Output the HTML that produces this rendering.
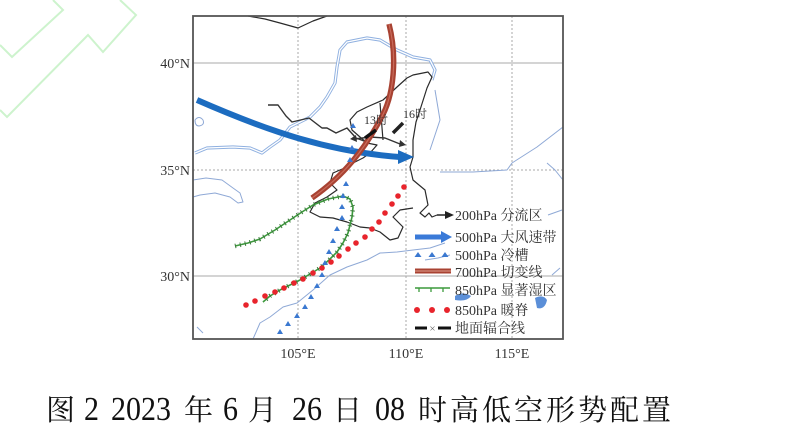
<!DOCTYPE html>
<html><head><meta charset="utf-8"><style>
html,body{margin:0;padding:0;background:#fff;}
svg{display:block;}
.s{font-family:"Liberation Serif","Noto Serif CJK SC",serif;}
</style></head><body>
<svg width="800" height="440" viewBox="0 0 800 440" xmlns="http://www.w3.org/2000/svg">
<rect width="800" height="440" fill="#fff"/>
<!-- decorative green outlines -->
<polyline points="53,0 63,10 12,57 0,45" fill="none" stroke="#cdf3cd" stroke-width="2"/>
<polyline points="120,0 136,15 103,52 88,35 7,117 0,110" fill="none" stroke="#cdf3cd" stroke-width="2"/>

<!-- grid -->
<g stroke="#a8a8a8" stroke-width="1" fill="none">
<line x1="193" y1="63" x2="563" y2="63"/>
<line x1="193" y1="276" x2="563" y2="276"/>
<line x1="193" y1="170" x2="563" y2="170" stroke-dasharray="2,2"/>
<line x1="298" y1="16" x2="298" y2="339" stroke-dasharray="2,2"/>
<line x1="406" y1="16" x2="406" y2="339" stroke-dasharray="2,2"/>
<line x1="512" y1="16" x2="512" y2="339" stroke-dasharray="2,2"/>
</g>

<!-- rivers -->
<g fill="none" stroke-linejoin="round">
<polyline points="195,153 207,148 233,147 250,148 262,153 270,147 280,140 290,127 310,117 320,107 327,97 335,83 337,67 340,50 347,42 367,38 380,40 397,50 413,57 430,60 435,70 432,80" stroke="#8fb0e0" stroke-width="3.2"/>
<polyline points="195,153 207,148 233,147 250,148 262,153 270,147 280,140 290,127 310,117 320,107 327,97 335,83 337,67 340,50 347,42 367,38 380,40 397,50 413,57 430,60 435,70 432,80" stroke="#fff" stroke-width="1.3"/>
<g stroke="#8fa9d6" stroke-width="1">
<polyline points="253,339 260,323 270,317 283,307 297,303 313,290 330,275 347,267 367,260 380,253 397,252 413,250 430,248 445,243"/>
<polyline points="425,260 438,258 450,255"/>
<polyline points="440,172 473,172 507,170 512,163 537,147 563,127"/>
<polyline points="547,163 555,170 563,180"/>
<polyline points="193,197 200,195 215,193 230,197 238,203 243,202 240,193 233,188 222,180 206,178 193,180"/>
<path d="M195,120 q4,-5 8,0 q2,5 -4,6 q-4,0 -4,-6z"/>
<polyline points="197,327 203,333"/>
<polyline points="548,215 562,210"/>
<polyline points="552,275 560,268"/>
<polyline points="435,90 440,120 430,150"/>
</g>
<path d="M455,296 q8,-5 16,0 q-4,6 -16,4z" fill="#5b8fd8"/>
<path d="M535,298 q8,-4 12,2 q-2,10 -10,8z" fill="#5b8fd8"/>
</g>

<!-- black boundaries -->
<g fill="none" stroke="#2a2a2a" stroke-width="1.2" stroke-linejoin="round">
<polyline points="248,16 265,19 280,23 298,28 313,21 327,16"/>
<polyline points="407,78 413,75 428,72 432,77 427,88 420,110 416,122 413,140 413,157 410,167 413,180 425,190 428,205 420,213 425,217 429,213 432,217 437,215"/>
<polyline points="407,78 397,87 383,100 367,107 357,112 350,120 352,130 360,137 367,143 377,145 370,153 363,158 353,163 347,167 333,173 330,183 337,190 327,197 315,203 310,212 320,217 333,218 347,222 360,227 370,228 380,232 390,240 398,238 403,227 393,217 400,210 413,208"/>
<polyline points="380,103 383,140"/>
</g>

<!-- 200hPa zigzag -->
<g fill="none" stroke="#333" stroke-width="1.4" stroke-linejoin="round">
<polyline points="268,105 278,105 286,116 292,122 309,118 322,128 327,128 336,133 347,128 356,138 364,141 370,137"/>
<polyline points="370,137 385,138 400,144"/>
<polyline points="370,137 355,139"/>
</g>
<polygon points="400,140 406,145 399,147" fill="#333"/>
<polygon points="356,135 350,139 357,142" fill="#333"/>

<!-- blue jet arrow -->
<path d="M197,100 C270,132 330,152 400,157" fill="none" stroke="#1c6cc0" stroke-width="6"/>
<polygon points="398,150 414,157 398,164" fill="#1c6cc0"/>

<!-- shear line -->
<path d="M389,24 C397,55 395,95 380,120 C365,148 345,175 312,198" fill="none" stroke="#a84232" stroke-width="5.5"/>
<path d="M389,24 C397,55 395,95 380,120 C365,148 345,175 312,198" fill="none" stroke="#c86a5a" stroke-width="1.2"/>

<!-- surface convergence dashes -->
<line x1="365" y1="138" x2="376" y2="130" stroke="#111" stroke-width="3.5"/>
<line x1="393" y1="133" x2="403" y2="123" stroke="#222" stroke-width="3.5"/>
<text x="364" y="124" class="s" font-size="12" fill="#333">13时</text>
<text x="403" y="118" class="s" font-size="12" fill="#333">16时</text>

<!-- green wet region -->
<polyline points="235,246 248,243 260,239 275,230 290,220 302,212 313,205 328,199 343,196 350,199 353,207 352,217 348,233 343,243 337,252 329,260 320,268 310,274 300,280 290,285 280,290 270,296 263,302" fill="none" stroke="#3c9a3c" stroke-width="1.6" stroke-linejoin="round"/>
<polyline points="235,246 248,243 260,239 275,230 290,220 302,212 313,205 328,199 343,196 350,199 353,207 352,217 348,233 343,243 337,252 329,260 320,268 310,274 300,280 290,285 280,290 270,296 263,302" fill="none" stroke="#3a7a3a" stroke-width="4.5" stroke-dasharray="1,4"/>

<!-- blue triangles -->
<g fill="#3a78d0">
<path d="M353,123l3,5h-6z"/><path d="M352,145l3,5h-6z"/><path d="M350,157l3,5h-6z"/>
<path d="M346,181l3,5h-6z"/><path d="M343,193l3,5h-6z"/><path d="M342,204l3,5h-6z"/>
<path d="M342,215l3,5h-6z"/><path d="M337,226l3,5h-6z"/><path d="M333,238l3,5h-6z"/>
<path d="M329,249l3,5h-6z"/><path d="M325,260l3,5h-6z"/><path d="M322,272l3,5h-6z"/>
<path d="M317,283l3,5h-6z"/><path d="M311,294l3,5h-6z"/><path d="M305,304l3,5h-6z"/>
<path d="M297,313l3,5h-6z"/><path d="M288,321l3,5h-6z"/><path d="M280,329l3,5h-6z"/>
</g>

<!-- red dots -->
<g fill="#e8242c">
<circle cx="404" cy="187" r="2.8"/><circle cx="398" cy="196" r="2.8"/><circle cx="392" cy="204" r="2.8"/>
<circle cx="385" cy="213" r="2.8"/><circle cx="379" cy="222" r="2.8"/><circle cx="372" cy="229" r="2.8"/>
<circle cx="365" cy="237" r="2.8"/><circle cx="356" cy="243" r="2.8"/><circle cx="348" cy="249" r="2.8"/>
<circle cx="339" cy="256" r="2.8"/><circle cx="331" cy="262" r="2.8"/><circle cx="322" cy="268" r="2.8"/>
<circle cx="313" cy="273" r="2.8"/><circle cx="303" cy="279" r="2.8"/><circle cx="294" cy="283" r="2.8"/>
<circle cx="284" cy="288" r="2.8"/><circle cx="275" cy="292" r="2.8"/><circle cx="265" cy="296" r="2.8"/>
<circle cx="255" cy="301" r="2.8"/><circle cx="246" cy="305" r="2.8"/>
</g>

<!-- legend -->
<line x1="437" y1="215" x2="447" y2="215" stroke="#222" stroke-width="1.5"/>
<polygon points="445,211 454,215 445,219" fill="#222"/>
<line x1="415" y1="237" x2="443" y2="237" stroke="#3a7ad8" stroke-width="5"/>
<polygon points="441,231 452,237 441,243" fill="#3a7ad8"/>
<g fill="#3a78d0"><path d="M418,252l3.5,5h-7z"/><path d="M432,252l3.5,5h-7z"/><path d="M445,252l3.5,5h-7z"/></g>
<rect x="415" y="268.5" width="36" height="5" fill="#a84232"/>
<line x1="415" y1="271" x2="451" y2="271" stroke="#e0a090" stroke-width="1"/>
<line x1="415" y1="288" x2="450" y2="288" stroke="#3c9a3c" stroke-width="1.5"/>
<g stroke="#3c9a3c" stroke-width="1.3"><line x1="419" y1="288" x2="419" y2="292"/><line x1="431" y1="288" x2="431" y2="292"/><line x1="443" y1="288" x2="443" y2="292"/></g>
<g fill="#e8242c"><circle cx="417" cy="310" r="3"/><circle cx="432" cy="310" r="3"/><circle cx="447" cy="310" r="3"/></g>
<line x1="415" y1="328" x2="427" y2="328" stroke="#111" stroke-width="3"/>
<line x1="438" y1="328" x2="451" y2="328" stroke="#111" stroke-width="3"/>
<text x="432.5" y="332" class="s" font-size="11" fill="#666" text-anchor="middle">×</text>
<g class="s" font-size="14" fill="#333">
<text x="455" y="220">200hPa 分流区</text>
<text x="455" y="242">500hPa 大风速带</text>
<text x="455" y="260">500hPa 冷槽</text>
<text x="455" y="277">700hPa 切变线</text>
<text x="455" y="295">850hPa 显著湿区</text>
<text x="455" y="315">850hPa 暖脊</text>
<text x="455" y="333">地面辐合线</text>
</g>

<!-- frame -->
<rect x="193" y="16" width="370" height="323" fill="none" stroke="#555" stroke-width="1.8"/>

<!-- axis labels -->
<g class="s" font-size="14" fill="#333">
<text x="190" y="68" text-anchor="end">40°N</text>
<text x="190" y="175" text-anchor="end">35°N</text>
<text x="190" y="281" text-anchor="end">30°N</text>
<text x="298" y="358" text-anchor="middle">105°E</text>
<text x="406" y="358" text-anchor="middle">110°E</text>
<text x="512" y="358" text-anchor="middle">115°E</text>
</g>

<!-- caption -->
<g class="s" fill="#111">
<text x="46" y="420" font-size="29">图</text>
<text transform="translate(84,420) scale(1,1.12)" font-size="30">2</text>
<text transform="translate(111,420) scale(1,1.12)" font-size="30">2023</text>
<text x="184" y="420" font-size="29">年</text>
<text transform="translate(223,420) scale(1,1.12)" font-size="30">6</text>
<text x="248" y="420" font-size="29">月</text>
<text transform="translate(292,420) scale(1,1.12)" font-size="30">26</text>
<text x="333" y="420" font-size="29">日</text>
<text transform="translate(375,420) scale(1,1.12)" font-size="30">08</text>
<text x="418" y="420" font-size="29" letter-spacing="3">时高低空形势配置</text>
</g>
</svg>
</body></html>
